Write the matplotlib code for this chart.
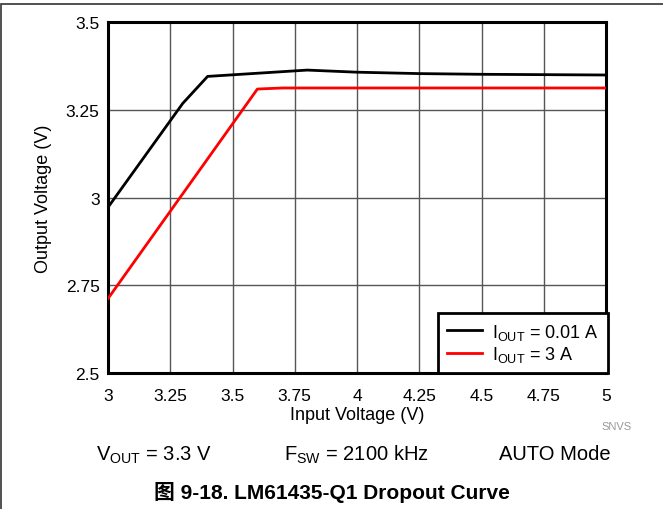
import matplotlib
matplotlib.use('Agg')
import matplotlib.pyplot as plt
from matplotlib.patches import Rectangle

plt.rcParams['font.family'] = ['Liberation Sans', 'Noto Sans CJK SC', 'DejaVu Sans']
plt.rcParams['mathtext.fontset'] = 'custom'
plt.rcParams['mathtext.rm'] = 'Liberation Sans'

# data
vin_low = [3.0, 3.3, 3.4, 3.8, 4.0, 4.25, 4.5, 4.75, 5.0]
vout_low = [2.972, 3.268, 3.345, 3.363, 3.357, 3.353, 3.351, 3.350, 3.349]
vin_high = [3.0, 3.6, 3.7, 4.0, 4.5, 5.0]
vout_high = [2.712, 3.309, 3.312, 3.312, 3.312, 3.312]

xticks = [3, 3.25, 3.5, 3.75, 4, 4.25, 4.5, 4.75, 5]
xlabels = ['3', '3.25', '3.5', '3.75', '4', '4.25', '4.5', '4.75', '5']
yticks = [2.5, 2.75, 3, 3.25, 3.5]
ylabels = ['2.5', '2.75', '3', '3.25', '3.5']

fig = plt.figure(figsize=(6.63, 5.10), dpi=100)
ax = fig.add_axes([108/663, 1-374/510, 498/663, 351/510])

ax.plot(vin_low, vout_low, color='black', lw=2, label=r'$\mathregular{I_{OUT}}$ = 0.01 A', zorder=3)
ax.plot(vin_high, vout_high, color='#ff0000', lw=2, label=r'$\mathregular{I_{OUT}}$ = 3 A', zorder=3)

ax.set_xlim(3, 5)
ax.set_ylim(2.5, 3.5)
ax.set_xticks(xticks, xlabels)
ax.set_yticks(yticks, ylabels)
ax.tick_params(length=0, labelsize=12.5)
ax.tick_params(axis='x', pad=11)
ax.tick_params(axis='y', pad=6)
ax.grid(True, color='#555555', lw=1)
for s in ax.spines.values():
    s.set_linewidth(2.2)
ax.set_xlabel('Input Voltage (V)', fontsize=13, labelpad=2)
ax.set_ylabel('Output Voltage (V)', fontsize=13, labelpad=10)

leg = ax.legend(loc='lower right', fontsize=13, fancybox=False, framealpha=1,
                edgecolor='black', borderaxespad=0, handlelength=1.95,
                handletextpad=0.55, borderpad=0.5, labelspacing=0.12,
                bbox_to_anchor=(1.004, 0.0))
leg.get_frame().set_linewidth(2)

fig.text(617/663, 1-427/510, 'SNVS', fontsize=8, color='#999999', ha='center', va='center')
fig.text(154/663, 1-455/510, r'$\mathregular{V_{OUT}}$ = 3.3 V', fontsize=14.5, ha='center', va='center')
fig.text(356/663, 1-455/510, r'$\mathregular{F_{SW}}$ = 2100 kHz', fontsize=14.5, ha='center', va='center')
fig.text(555/663, 1-455/510, 'AUTO Mode', fontsize=14.5, ha='center', va='center')
fig.text(332/663, 1-493/510, '图 9-18. LM61435-Q1 Dropout Curve', fontsize=15,
         fontweight='bold', ha='center', va='center')

fig.patches.append(Rectangle((0.002, -0.1), 1.1, 1.09, transform=fig.transFigure,
                             fill=False, edgecolor='#333333', lw=1.2))

fig.savefig('out.png', dpi=100)
